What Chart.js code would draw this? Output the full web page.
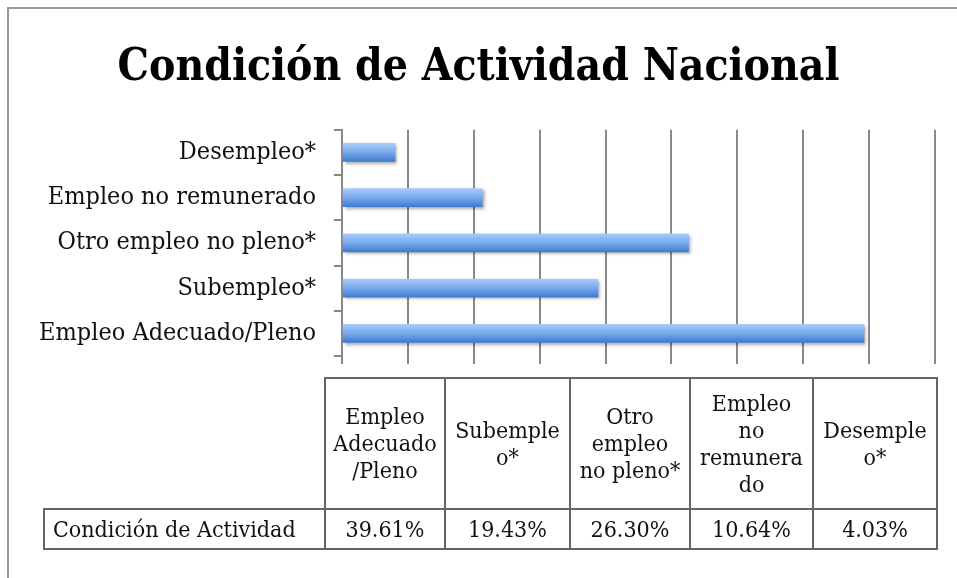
<!DOCTYPE html>
<html>
<head>
<meta charset="utf-8">
<script src="https://cdn.jsdelivr.net/npm/chart.js@4"></script>
<style>
  body { margin: 0; background: #fff; }
  #wrap { position: relative; width: 957px; height: 578px; overflow: hidden; }
  #frame { position: absolute; left: 7px; top: 7px; width: 970px; height: 600px;
           border-top: 2px solid #999; border-left: 2px solid #999; }
  #chart { position: absolute; left: 0; top: 0; }
  #tbl { position: absolute; left: 43px; top: 377px; border-collapse: collapse;
         font-family: "DejaVu Serif Condensed", "Liberation Serif", serif; font-size: 23px; color: #111; }
  #tbl td { border: 2px solid #666; text-align: center; padding: 0; line-height: 27px; }
  #tbl td.blank { border: none; border-right: 2px solid #666; border-bottom: 2px solid #666; }
  #tbl tr.head td { height: 129px; }
  #tbl tr.vals td { height: 38px; }
</style>
</head>
<body>
<div id="wrap">
  <div id="frame"></div>
  <canvas id="chart" width="957" height="578"></canvas>
  <table id="tbl"></table>
</div>
<script>
const categories = ["Empleo Adecuado/Pleno", "Subempleo*", "Otro empleo no pleno*", "Empleo no remunerado", "Desempleo*"];
const values = [39.61, 19.43, 26.30, 10.64, 4.03];
const headerLines = [
  ["Empleo", "Adecuado", "/Pleno"],
  ["Subemple", "o*"],
  ["Otro", "empleo", "no pleno*"],
  ["Empleo", "no", "remunera", "do"],
  ["Desemple", "o*"]
];
const rowLabel = "Condición de Actividad";
const colWidths = [118, 123, 118, 121, 122];

const serif = "'DejaVu Serif Condensed', 'Liberation Serif', serif";

// table under the chart
const tbl = document.getElementById("tbl");
let head = '<tr class="head"><td class="blank" style="width:280px"></td>';
headerLines.forEach(function (lines, i) {
  head += '<td style="width:' + colWidths[i] + 'px">' + lines.join("<br>") + "</td>";
});
head += "</tr>";
let row = '<tr class="vals"><td style="text-align:left;padding-left:8px">' + rowLabel + "</td>";
values.forEach(function (v) {
  row += "<td>" + v.toFixed(2) + "%</td>";
});
row += "</tr>";
tbl.innerHTML = head + row;

const barShadow = {
  id: "barShadow",
  beforeDatasetsDraw(chart) {
    const ctx = chart.ctx;
    ctx.save();
    ctx.shadowColor = "rgba(0,0,0,0.35)";
    ctx.shadowOffsetX = 2;
    ctx.shadowOffsetY = 2;
    ctx.shadowBlur = 3;
  },
  afterDatasetsDraw(chart) {
    chart.ctx.restore();
  }
};

new Chart(document.getElementById("chart"), {
  type: "bar",
  data: {
    labels: categories,
    datasets: [
      {
        data: values,
        barThickness: 18,
        borderWidth: 0,
        backgroundColor: function (c) {
          const chart = c.chart;
          if (!chart.chartArea) return "#6a9fe6";
          const y = chart.scales.y.getPixelForTick(c.dataIndex);
          const g = chart.ctx.createLinearGradient(0, y - 9, 0, y + 9);
          g.addColorStop(0, "#a6cbf8");
          g.addColorStop(0.5, "#77a9ec");
          g.addColorStop(1, "#3f7ccf");
          return g;
        },
      },
    ],
  },
  options: {
    responsive: false,
    animation: false,
    indexAxis: "y",
    layout: { padding: { left: 22, right: 22, top: 0, bottom: 214 } },
    scales: {
      x: {
        min: 0,
        max: 45,
        ticks: { display: false, stepSize: 5 },
        grid: { color: "#888", lineWidth: 2, tickLength: 8 },
        border: { display: false },
      },
      y: {
        reverse: true,
        afterFit: function (scale) { scale.width = 320; },
        ticks: { color: "#111", padding: 18, font: { family: serif, size: 25 } },
        grid: { drawOnChartArea: false, color: "#888", lineWidth: 2, tickLength: 8, offset: true },
        border: { display: true, color: "#888", width: 2 },
      },
    },
    plugins: {
      legend: { display: false },
      tooltip: { enabled: false },
      title: {
        display: true,
        text: "Condición de Actividad Nacional",
        color: "#000",
        font: { family: serif, size: 44, weight: "bold" },
        padding: { top: 42, bottom: 35 },
      },
    },
  },
  plugins: [barShadow],
});
</script>
</body>
</html>
